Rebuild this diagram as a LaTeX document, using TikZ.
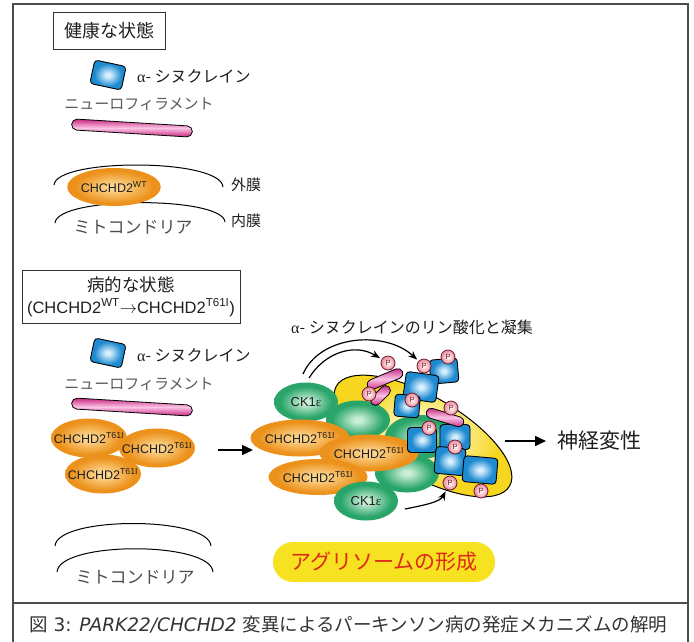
\documentclass[tikz,border=0pt]{standalone}
\usepackage{fontspec}
\setmainfont{Liberation Sans}
\newfontfamily\jp{Noto Sans CJK JP}
\newfontfamily\grk{Liberation Serif}
\newfontfamily\capfont{DejaVu Sans}[ItalicFont={DejaVu Sans Oblique}]
\usetikzlibrary{shapes.geometric, shapes.misc, arrows.meta}

\newcommand{\fsz}[2]{\fontsize{#1}{#2}\selectfont}

% Colours
\definecolor{txtdark}{RGB}{30,30,30}
\definecolor{orlight}{RGB}{252,212,140}
\definecolor{ordark}{RGB}{236,146,28}
\definecolor{grlight}{RGB}{200,238,215}
\definecolor{grdark}{RGB}{42,165,105}
\definecolor{bllight}{RGB}{215,240,255}
\definecolor{bldark}{RGB}{30,138,208}
\definecolor{yelight}{RGB}{255,250,205}
\definecolor{yedark}{RGB}{246,214,30}
\definecolor{pklight}{RGB}{255,232,232}
\definecolor{pkdark}{RGB}{234,150,165}
\definecolor{phosline}{RGB}{110,25,45}
\definecolor{rodpink}{RGB}{200,38,128}
\definecolor{rodlight}{RGB}{250,195,228}
\definecolor{pillyellow}{RGB}{246,226,32}
\definecolor{pillred}{RGB}{222,42,22}

% Ball-like shadings (the node border sits at 25bp)
\pgfdeclareradialshading{orangeball}{\pgfpoint{0bp}{0bp}}{color(0bp)=(orlight); color(4bp)=(orlight); color(21bp)=(ordark); color(50bp)=(ordark)}
\pgfdeclareradialshading{greenball}{\pgfpoint{0bp}{0bp}}{color(0bp)=(grlight); color(3bp)=(grlight); color(20bp)=(grdark); color(50bp)=(grdark)}
\pgfdeclareradialshading{blueball}{\pgfpoint{0bp}{0bp}}{color(0bp)=(bllight); color(3bp)=(bllight); color(19bp)=(bldark); color(50bp)=(bldark)}
\pgfdeclareradialshading{yellowball}{\pgfpoint{0bp}{0bp}}{color(0bp)=(yelight); color(5bp)=(yelight); color(20bp)=(yedark); color(50bp)=(yedark)}
\pgfdeclareradialshading{pinkball}{\pgfpoint{0bp}{0bp}}{color(0bp)=(pklight); color(6bp)=(pklight); color(22bp)=(pkdark); color(50bp)=(pkdark)}

\tikzset{
  framestyle/.style={draw=black!70, line width=1.5pt},
  titlebox/.style={draw=black!80, line width=1pt, inner sep=0pt, text=txtdark},
  jplabel/.style={font={\jp\fsz{16}{18}}, text=txtdark, inner sep=0pt},
  chchd/.style={ellipse, shading=orangeball, minimum width=76pt, minimum height=39pt,
    inner sep=0pt, font=\fsz{12.5}{14}, text=txtdark},
  chlabel/.style={inner sep=0pt, font=\fsz{12.5}{14}, text=txtdark},
  ckone/.style={ellipse, shading=greenball, minimum width=64pt, minimum height=39pt,
    inner sep=0pt, font=\fsz{13}{15}, text=txtdark},
  syn/.style={rectangle, rounded corners=3.5pt, draw=black, line width=0.9pt,
    shading=blueball, inner sep=0pt},
  nfrod/.style={rounded rectangle, draw=black, line width=0.8pt, top color=rodpink,
    bottom color=rodpink, middle color=rodlight, minimum height=10pt, inner sep=0pt},
  phos/.style={circle, draw=phosline, line width=0.8pt, shading=pinkball,
    minimum size=14pt, inner sep=0pt, font=\fsz{7.5}{8}, text=phosline},
  aggbody/.style={ellipse, draw=black, line width=1pt, shading=yellowball},
  membrane/.style={draw=black, line width=1pt},
  bigarrow/.style={draw=black, line width=1.6pt, -{Triangle[length=11pt,width=10pt]}},
  curvearrow/.style={draw=black, line width=1.2pt, -{Stealth[length=9pt,width=7pt]}, shorten >=2pt},
  pill/.style={rounded rectangle, fill=pillyellow, minimum width=222pt, minimum height=40pt,
    inner sep=0pt, text=pillred, font={\jp\fsz{21}{24}}}
}

\begin{document}
\begin{tikzpicture}[x=1pt, y=-1pt]
    \useasboundingbox (0,0) rectangle (694,641);

    % Frame and caption rule
    \draw[framestyle] (13,4) rectangle (688,670);
    \draw[framestyle] (13,603) -- (688,603);
    \node[anchor=west, inner sep=0pt, font={\capfont\fsz{18.5}{20}}, text=black!80] (caption) at (29,624)
        {{\jp 図} 3: \textit{PARK22/CHCHD2} {\jp 変異によるパーキンソン病の発症メカニズムの解明}};

    % ---- Healthy state ----
    \node[titlebox, minimum width=112pt, minimum height=37pt, font={\jp\fsz{18}{20}}] (healthy) at (109,30.5) {健康な状態};

    \node[syn, minimum width=32pt, minimum height=24pt, rotate=-12] (synA) at (108,75) {};
    \node[jplabel, anchor=west] (synlabA) at (137,76) {{\grk α}- シヌクレイン};
    \node[jplabel, font={\jp\fsz{15}{17}}, text=black!65] (nflabA) at (139,104) {ニューロフィラメント};
    \node[nfrod, minimum width=121pt, minimum height=11pt, rotate=-3.5] (nfA) at (132,128) {};

    % Mitochondrion with the two membranes
    \draw[membrane] (54,185) .. controls (56,158) and (221,158) .. (223,187);
    \draw[membrane] (55,223) .. controls (57,196) and (223,196) .. (225,222);
    \node[jplabel, anchor=west, font={\jp\fsz{15}{17}}] (outerA) at (231,185) {外膜};
    \node[jplabel, anchor=west, font={\jp\fsz{15}{17}}] (innerA) at (231,221) {内膜};
    \node[jplabel, font={\jp\fsz{17}{19}}, text=black!70] (mitoA) at (133,227) {ミトコンドリア};
    \node[chchd, minimum width=75pt, minimum height=38pt] (wt) at (114,187) {CHCHD2\textsuperscript{WT}};

    % ---- Disease state ----
    \node[titlebox, minimum width=218pt, minimum height=53pt, align=center, font=\fsz{16.5}{22}] (disease) at (131,296.5)
        {{\jp\fsz{17.5}{22}病的な状態}\\(CHCHD2\textsuperscript{WT}$\rightarrow$CHCHD2\textsuperscript{T61I})};

    \node[syn, minimum width=32pt, minimum height=24pt, rotate=-12] (synB) at (108,353) {};
    \node[jplabel, anchor=west] (synlabB) at (137,355) {{\grk α}- シヌクレイン};
    \node[jplabel, font={\jp\fsz{15}{17}}, text=black!65] (nflabB) at (139,384) {ニューロフィラメント};
    \node[nfrod, minimum width=121pt, minimum height=11pt, rotate=-3.5] (nfB) at (132,407) {};

    % Mutant beads, labels set on top of all three
    \node[chchd] (b1) at (89,438) {};
    \node[chchd] (b2) at (157,448) {};
    \node[chchd] (b3) at (103,474) {};
    \foreach \b in {b1, b2, b3}
        \node[chlabel] (\b lab) at (\b) {CHCHD2\textsuperscript{T61I}};

    \draw[membrane] (55,546) .. controls (57,516) and (209,516) .. (211,546);
    \draw[membrane] (57,572) .. controls (59,541) and (211,541) .. (213,572);
    \node[jplabel, font={\jp\fsz{17}{19}}, text=black!70] (mitoB) at (135,577) {ミトコンドリア};

    \coordinate (la) at (218,450);
    \coordinate (lb) at (253,450);
    \draw[bigarrow] (la) -- (lb);

    % ---- Aggresome ----
    \node[jplabel] (phoslab) at (412,327) {{\grk α}- シヌクレインのリン酸化と凝集};
    \node[aggbody, rotate=-30, minimum width=200pt, minimum height=80pt] (agg) at (423,436) {};

    \node[ckone] (ck2) at (358,420) {};
    \node[ckone, minimum width=70pt, minimum height=44pt] (ck3) at (420,437) {};
    \node[ckone] (ck4) at (407,473) {};
    \node[ckone] (ck1) at (306,402) {CK1{\grk ε}};
    \node[chchd, minimum width=74pt, minimum height=37pt] (m1) at (300,438) {CHCHD2\textsuperscript{T61I}};
    \node[chchd, minimum width=75pt, minimum height=37pt] (m2) at (369,453) {CHCHD2\textsuperscript{T61I}};
    \node[chchd, minimum width=76pt, minimum height=36pt] (m3) at (318,477) {CHCHD2\textsuperscript{T61I}};
    \node[ckone] (ck5) at (366,501) {CK1{\grk ε}};

    % Neurofilament pieces and synuclein blocks
    \node[nfrod, minimum width=38pt, rotate=23] (r1) at (385,379) {};
    \node[nfrod, minimum width=24pt, rotate=45] (r2) at (380.5,395.5) {};
    \foreach \x/\y/\w/\h/\r [count=\i] in {444/371/28/24/5, 421/387/33/27/-8, 407/406/25/22/-5,
        422/440/29/25/0, 455/437/30/25/0, 450/461/30/27/-5, 480/470/34/26/-5}
        \node[syn, minimum width=\w pt, minimum height=\h pt, rotate=\r] (s\i) at (\x,\y) {};
    \node[nfrod, minimum width=39pt, rotate=-17] (r3) at (445,417.5) {};

    % Phosphate groups
    \foreach \x/\y [count=\i] in {388/363, 424/366, 448/357, 369/394, 412/400, 451/408,
        429/428, 455/447, 450/483, 481/491}
        \node[phos] (p\i) at (\x,\y) {P};

    % Phosphorylation arrows
    \coordinate (a1) at (309,378);
    \coordinate (a2) at (303,374);
    \coordinate (a3) at (405,509);
    \draw[curvearrow] (a1) .. controls (325,352) and (355,343) .. (p1);
    \draw[curvearrow] (a2) .. controls (320,335) and (385,330) .. (p2);
    \draw[curvearrow] (a3) .. controls (425,505) and (440,502) .. (p9);

    \node[pill] (aggform) at (384,562) {アグリソームの形成};

    % Outcome
    \node[jplabel, anchor=west, font={\jp\fsz{21}{24}}] (neuro) at (557,441) {神経変性};
    \coordinate (ra) at (505,441);
    \draw[bigarrow, shorten >=11pt] (ra) -- (neuro);
\end{tikzpicture}
\end{document}
